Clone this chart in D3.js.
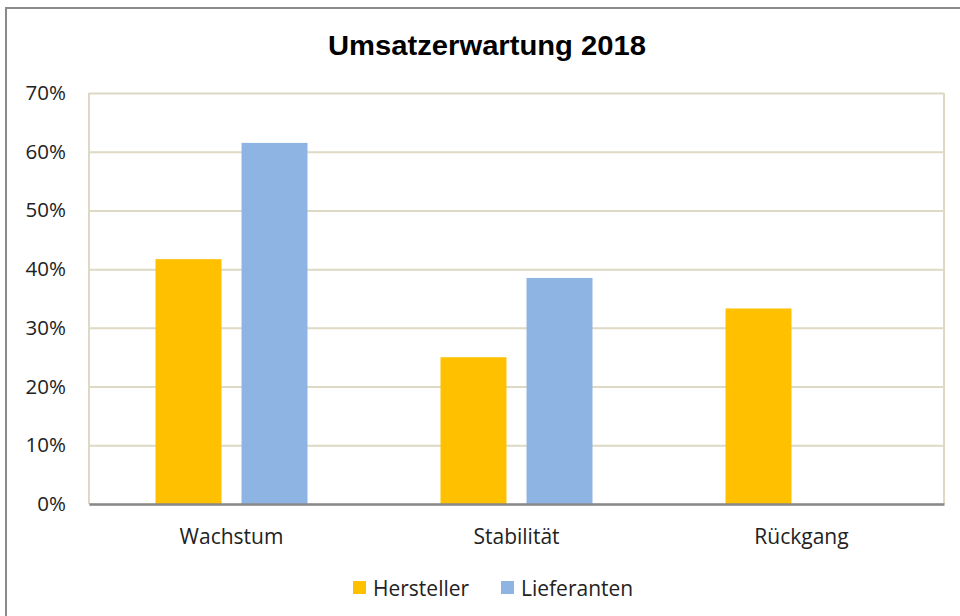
<!DOCTYPE html>
<html lang="de">
  <head>
    <meta charset="UTF-8" />
    <title>Umsatzerwartung 2018</title>
    <script src="https://d3js.org/d3.v7.min.js"></script>
    <style>
      body { margin: 0; background: #fff; }
      svg { display: block; }
    </style>
  </head>
  <body>
    <svg id="chart" width="960" height="616"></svg>
    <script>
      // chart data
      const categories = ["Wachstum", "Stabilität", "Rückgang"];
      const seriesNames = ["Hersteller", "Lieferanten"];
      const hersteller = [0.417, 0.25, 0.333];
      const lieferanten = [0.615, 0.385, 0];
      const yTicks = [0, 0.1, 0.2, 0.3, 0.4, 0.5, 0.6, 0.7];
      const colors = ["#ffc000", "#8eb4e3"];

      const svg = d3.select("#chart");
      const plot = { left: 89, right: 944, top: 93, bottom: 504 };
      const labelFont = "'Open Sans', Lato, sans-serif";

      // outer chart frame
      svg.append("rect")
        .attr("x", 6).attr("y", 8)
        .attr("width", 1000).attr("height", 700)
        .attr("fill", "#fff")
        .attr("stroke", "#8a8a8a")
        .attr("stroke-width", 2);

      svg.append("text")
        .attr("x", 487).attr("y", 55)
        .attr("text-anchor", "middle")
        .attr("textLength", 318)
        .attr("lengthAdjust", "spacingAndGlyphs")
        .style("font-family", "'Liberation Sans', Arial, sans-serif")
        .style("font-weight", "bold")
        .style("font-size", "27px")
        .text("Umsatzerwartung 2018");

      const x0 = d3.scaleBand()
        .domain(categories)
        .range([plot.left, plot.right]);

      const x1 = d3.scaleBand()
        .domain(seriesNames)
        .range([0, x0.bandwidth()])
        .paddingInner(0.233)
        .paddingOuter(0.773);

      const y = d3.scaleLinear()
        .domain([0, 0.7])
        .range([plot.bottom, plot.top]);

      // gridlines
      const yAxis = svg.append("g")
        .attr("transform", `translate(${plot.left},0)`)
        .call(d3.axisLeft(y).tickValues(yTicks).tickFormat(d3.format(".0%"))
          .tickSize(-(plot.right - plot.left)).tickPadding(23));
      yAxis.select(".domain").remove();
      yAxis.selectAll(".tick line")
        .attr("stroke", "#ddd9c4")
        .attr("stroke-width", 2);
      yAxis.selectAll(".tick text")
        .attr("fill", "#222")
        .style("font-family", labelFont)
        .style("font-size", "20.5px");

      // plot area side borders
      svg.append("g")
        .selectAll("line")
        .data([plot.left, plot.right])
        .join("line")
        .attr("x1", (d) => d).attr("x2", (d) => d)
        .attr("y1", plot.top).attr("y2", plot.bottom)
        .attr("stroke", "#ddd9c4")
        .attr("stroke-width", 2);

      const rows = categories.map((c, i) => ({
        cat: c,
        values: [hersteller[i], lieferanten[i]]
      }));

      svg.append("g")
        .selectAll("g")
        .data(rows)
        .join("g")
        .attr("transform", (d) => `translate(${x0(d.cat)},0)`)
        .selectAll("rect")
        .data((d) => d.values.map((v, j) => ({ s: seriesNames[j], v: v, c: colors[j] })))
        .join("rect")
        .attr("x", (d) => x1(d.s))
        .attr("y", (d) => y(d.v))
        .attr("width", x1.bandwidth())
        .attr("height", (d) => y(0) - y(d.v))
        .attr("fill", (d) => d.c);

      // category axis
      const xAxis = svg.append("g")
        .attr("transform", `translate(0,${plot.bottom})`)
        .call(d3.axisBottom(x0).tickSize(0).tickPadding(25));
      xAxis.select(".domain")
        .attr("stroke", "#898989")
        .attr("stroke-width", 2.5);
      xAxis.selectAll(".tick text")
        .attr("fill", "#222")
        .style("font-family", labelFont)
        .style("font-size", "21px");

      // legend
      const legendX = [353, 501];
      const legend = svg.append("g")
        .selectAll("g")
        .data(seriesNames)
        .join("g")
        .attr("transform", (d, i) => `translate(${legendX[i]},581)`);
      legend.append("rect")
        .attr("width", 13).attr("height", 13)
        .attr("fill", (d, i) => colors[i]);
      legend.append("text")
        .attr("x", 20).attr("y", 15)
        .attr("fill", "#222")
        .style("font-family", labelFont)
        .style("font-size", "21px")
        .text((d) => d);
    </script>
  </body>
</html>
